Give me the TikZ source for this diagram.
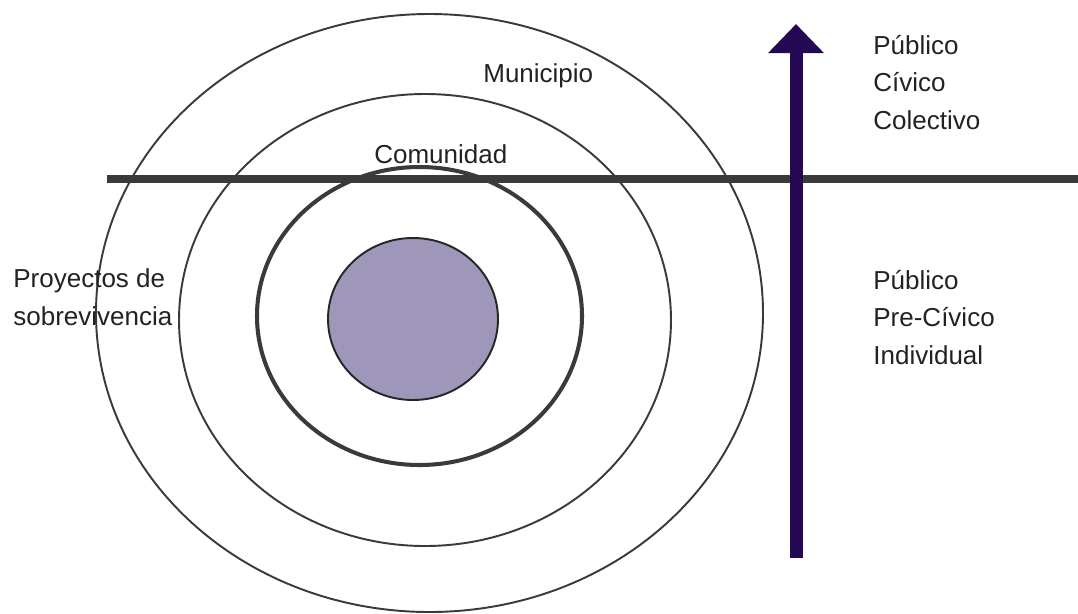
\documentclass[tikz,border=0pt]{standalone}
\usepackage{fontspec}
\setmainfont{Liberation Sans}
\usepackage{tikz}
\usetikzlibrary{arrows.meta,positioning}

\definecolor{ringgray}{RGB}{58,58,58}
\definecolor{corefill}{RGB}{158,151,186}
\definecolor{axispurple}{RGB}{36,8,84}
\definecolor{labelgray}{RGB}{34,34,34}

\begin{document}
\begin{tikzpicture}[
    x=0.02cm, y=-0.02cm,
    every node/.style={font=\fontsize{14.8}{21.3}\selectfont, text=labelgray, inner sep=0pt, align=left},
    ring/.style={draw=ringgray, line width=1.1pt},
    boldring/.style={draw=ringgray, line width=2.3pt},
    core/.style={draw=black!85, line width=1.1pt, fill=corefill},
    divider/.style={draw=ringgray, line width=4.4pt},
    axis/.style={draw=axispurple, line width=7.4pt, -{Triangle[length=0.58cm, width=1.08cm]}}
  ]
    \useasboundingbox (0,0) rectangle (1078,613);

    % Rings
    \draw[ring] (429.5,313) ellipse [x radius=333.5, y radius=299];
    \draw[ring] (425,320) ellipse [x radius=246, y radius=226];
    \draw[boldring] (419.5,316) ellipse [x radius=162.5, y radius=149];
    \draw[core] (413,319) ellipse [x radius=85, y radius=81];

    % Divider line
    \coordinate (divleft) at (107,179);
    \coordinate (divright) at (1078,179);
    \draw[divider] (divleft) -- (divright);

    % Axis arrow
    \coordinate (axisfoot) at (796,558);
    \coordinate (axistip) at (796,24);
    \draw[axis] (axisfoot) -- (axistip);

    % Labels (base = last line)
    \node[anchor=base west] (municipio) at (483,82) {Municipio};
    \node[anchor=base west] (comunidad) at (374,163) {Comunidad};
    \node[anchor=base west] (proyectos) at (13,325) {Proyectos de\\sobrevivencia};
    \node[anchor=base west] (colectivo) at (873,129) {Público\\Cívico\\Colectivo};
    \node[anchor=base west] (individual) at (873,364) {Público\\Pre-Cívico\\Individual};

  \end{tikzpicture}
\end{document}
